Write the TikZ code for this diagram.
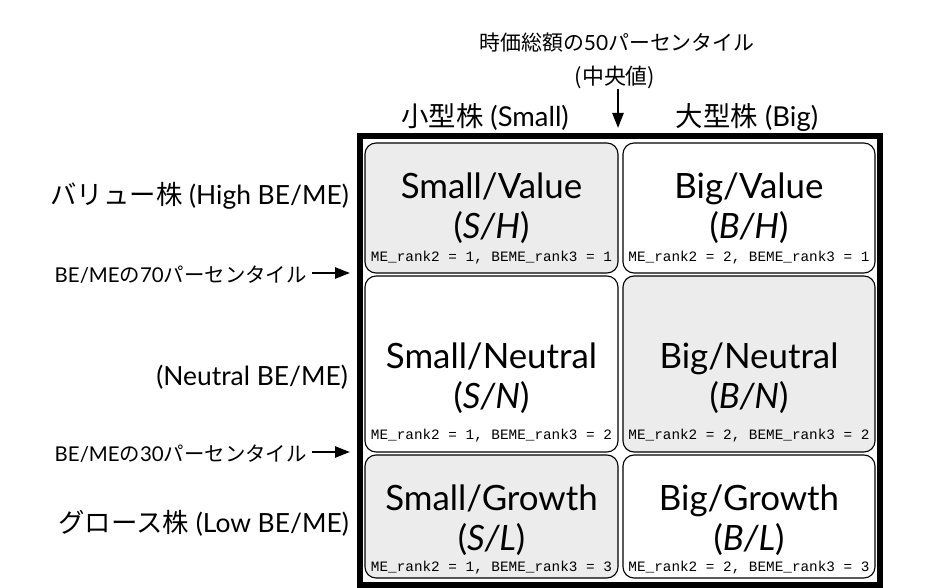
\documentclass[tikz,border=0pt]{standalone}
\usepackage{fontspec}
\setmainfont{Lato}
\setmonofont{Liberation Mono}
\newfontfamily\jp{Noto Sans CJK JP}
\usetikzlibrary{arrows.meta}
\definecolor{cellgray}{RGB}{236,236,236}

\begin{document}
\begin{tikzpicture}[x=1bp, y=-1bp,
  cell/.style={draw=black, line width=1.1bp, rounded corners=11bp, inner sep=0pt},
  title/.style={align=center, inner sep=0pt, font=\fontsize{35}{40}\selectfont},
  rank/.style={inner sep=0pt, font=\ttfamily\fontsize{14.4}{15}\selectfont},
  side/.style={anchor=east, inner sep=0pt, font=\fontsize{26.5}{30}\selectfont},
  pct/.style={anchor=east, inner sep=0pt, font=\fontsize{20.5}{24}\selectfont},
  head/.style={inner sep=0pt, font=\fontsize{27.5}{30}\selectfont},
  arr/.style={-{Triangle[length=15bp, width=11bp]}, line width=2.4bp}]
\useasboundingbox (0,0) rectangle (944,588);

\node[cell, fill=cellgray, minimum width=253bp, minimum height=130bp] (SH) at (491.5, 208) {};
\node[cell, fill=white, minimum width=252bp, minimum height=130bp] (BH) at (749, 208) {};
\node[cell, fill=white, minimum width=253bp, minimum height=176bp] (SN) at (491.5, 364) {};
\node[cell, fill=cellgray, minimum width=252bp, minimum height=176bp] (BN) at (749, 364) {};
\node[cell, fill=cellgray, minimum width=253bp, minimum height=123bp] (SL) at (491.5, 516.5) {};
\node[cell, fill=white, minimum width=252bp, minimum height=123bp] (BL) at (749, 516.5) {};
\draw[line width=6bp] (360, 136) rectangle (880, 585);

\node[title] (SHt) at (491.5, 208.5) {Small/Value\\(\textit{S/H})};
\node[title] (BHt) at (749, 208.5) {Big/Value\\(\textit{B/H})};
\node[title] (SNt) at (491.5, 378) {Small/Neutral\\(\textit{S/N})};
\node[title] (BNt) at (749, 378) {Big/Neutral\\(\textit{B/N})};
\node[title] (SLt) at (491.5, 520) {Small/Growth\\(\textit{S/L})};
\node[title] (BLt) at (749, 520) {Big/Growth\\(\textit{B/L})};

\node[rank] (SHr) at (491.5, 258) {ME\_rank2 = 1, BEME\_rank3 = 1};
\node[rank] (BHr) at (749, 258) {ME\_rank2 = 2, BEME\_rank3 = 1};
\node[rank] (SNr) at (491.5, 435.5) {ME\_rank2 = 1, BEME\_rank3 = 2};
\node[rank] (BNr) at (749, 435.5) {ME\_rank2 = 2, BEME\_rank3 = 2};
\node[rank] (SLr) at (491.5, 567.5) {ME\_rank2 = 1, BEME\_rank3 = 3};
\node[rank] (BLr) at (749, 567.5) {ME\_rank2 = 2, BEME\_rank3 = 3};

\node[head] (small) at (485, 117) {{\jp 小型株} (Small)};
\node[head] (big) at (747, 117) {{\jp 大型株} (Big)};
\node[head, font=\fontsize{21}{25}\selectfont] (mcap) at (617, 43) {{\jp 時価総額の}50{\jp パーセンタイル}};
\node[head, font=\fontsize{22}{25}\selectfont] (median) at (615, 77) {{\jp (中央値)}};
\coordinate (mtip) at (618, 128);
\draw[arr] (median.south -| mtip) -- (mtip);

\node[side] (high) at (349, 196) {{\jp バリュー株} (High BE/ME)};
\node[side] (neutral) at (348, 377) {(Neutral BE/ME)};
\node[side] (low) at (349, 523) {{\jp グロース株} (Low BE/ME)};

\node[pct] (p70) at (307, 275) {BE/ME{\jp の}70{\jp パーセンタイル}};
\node[pct] (p30) at (307, 454) {BE/ME{\jp の}30{\jp パーセンタイル}};
\coordinate (p70tip) at (350, 273);
\coordinate (p30tip) at (350, 452);
\draw[arr] ([xshift=5bp]p70.east |- p70tip) -- (p70tip);
\draw[arr] ([xshift=5bp]p30.east |- p30tip) -- (p30tip);
\end{tikzpicture}
\end{document}
